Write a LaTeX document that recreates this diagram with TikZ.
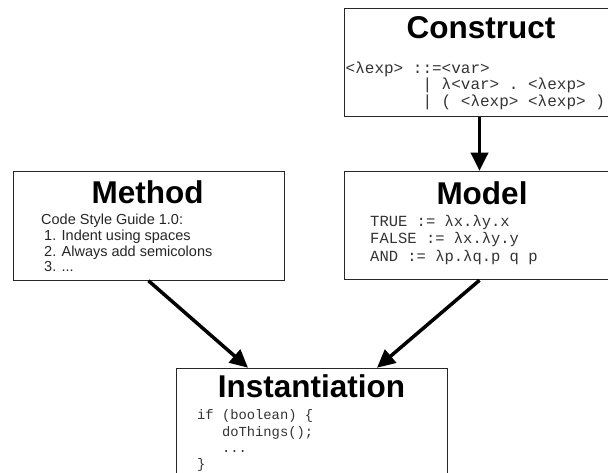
\documentclass[tikz,border=0pt]{standalone}
\usepackage{fontspec}
\setmainfont{Liberation Sans}
\setmonofont{Liberation Mono}
\usetikzlibrary{arrows.meta}
\newcommand{\indentby}[1]{\hphantom{#1}}
\begin{document}
\begin{tikzpicture}[x=1pt,y=-1pt,
  box/.style={draw=black!85, line width=1pt, fill=white,
    minimum width=271pt, minimum height=108.5pt, inner sep=0pt},
  title/.style={anchor=base, inner sep=0pt,
    font=\fontsize{31.5}{32}\selectfont\bfseries},
  body/.style={anchor=base west, inner sep=0pt, text=black!85,
    font=\fontsize{14.5}{15}\selectfont},
  code/.style={anchor=base west, inner sep=0pt, text=black!80,
    font=\ttfamily\fontsize{15.5}{16}\selectfont},
  bigcode/.style={code, font=\ttfamily\fontsize{16}{17}\selectfont},
  smallcode/.style={code, font=\ttfamily\fontsize{13.8}{14}\selectfont},
  flow/.style={line width=3.5pt, -{Triangle[length=18pt,width=17pt]}}]

% canvas
\useasboundingbox (0,0) rectangle (608,473);
\fill[white] (0,0) rectangle (608,473);
\clip (0,0) rectangle (608,473);

% boxes
\node[box] (construct) at (479.5,62.5) {};
\node[box] (method)    at (148.5,226)  {};
\node[box] (model)     at (479.5,225.5) {};
\node[box] (inst)      at (311.5,422.5) {};

% Construct
\node[title] (ctitle) at (481,39) {Construct};
\node[bigcode] (c1) at (345.5,73.5) {<λexp> ::=<var>};
\node[bigcode] (c2) at (345.5,90) {\indentby{00000000}| λ<var> . <λexp>};
\node[bigcode] (c3) at (345.5,106.5) {\indentby{00000000}| ( <λexp> <λexp> )};

% Method
\node[title] (mtitle) at (147.5,204) {Method};
\node[body] (t1) at (41,225) {Code Style Guide 1.0:};
\node[body] (t2) at (44,241) {1. Indent using spaces};
\node[body] (t3) at (44,256.5) {2. Always add semicolons};
\node[body] (t4) at (44,272) {3. ...};

% Model
\node[title] (otitle) at (482,204.5) {Model};
\node[code] (m1) at (370,227) {TRUE := λx.λy.x};
\node[code] (m2) at (370,244) {FALSE := λx.λy.y};
\node[code] (m3) at (370,261.5) {AND := λp.λq.p q p};

% Instantiation
\node[title] (ititle) at (311.5,397) {Instantiation};
\node[smallcode] (i1) at (197,419.5) {if (boolean) \{};
\node[smallcode] (i2) at (197,436) {\indentby{000}doThings();};
\node[smallcode] (i3) at (197,452) {\indentby{000}...};
\node[smallcode] (i4) at (197,468) {\}};

% connectors
\draw[flow] (construct.south) -- (model.north);
\draw[flow] (method.south) -- ([xshift=-63.5pt]inst.north);
\draw[flow] (model.south) -- ([xshift=65.5pt]inst.north);
\end{tikzpicture}
\end{document}
